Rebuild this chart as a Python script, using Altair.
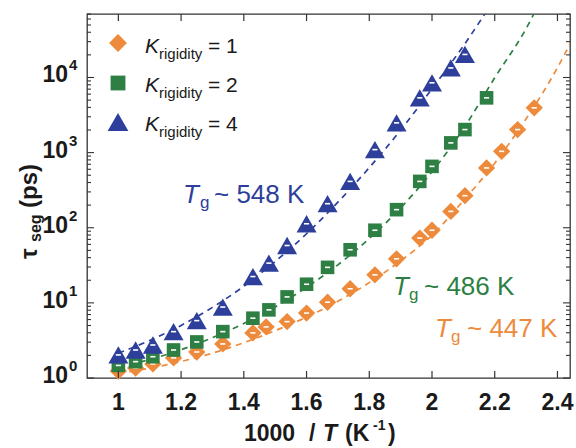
import altair as alt
import pandas as pd

# ---- segmental relaxation time vs inverse temperature ----
x_k1 = [1.0, 1.055, 1.11, 1.176, 1.25, 1.333, 1.429, 1.471, 1.538, 1.6, 1.667,
        1.739, 1.818, 1.887, 1.961, 2.0, 2.06, 2.105, 2.174, 2.222, 2.273, 2.326]
tau_k1 = [1.24, 1.36, 1.54, 1.85, 2.22, 2.84, 3.98, 4.79, 5.63, 7.31, 10.2,
          15.4, 23.6, 38.6, 72.9, 92.6, 165, 267, 625, 1040, 2026, 3945]

x_k2 = [1.0, 1.055, 1.11, 1.176, 1.25, 1.333, 1.429, 1.48, 1.538, 1.6, 1.667,
        1.739, 1.818, 1.887, 1.961, 2.0, 2.06, 2.105, 2.174]
tau_k2 = [1.47, 1.65, 1.92, 2.36, 3.02, 4.14, 6.25, 8.07, 12.0, 17.7, 29.7,
          50.9, 92.6, 174, 414, 656, 1347, 2026, 5360]

x_k4 = [1.0, 1.055, 1.11, 1.176, 1.25, 1.333, 1.429, 1.48, 1.538, 1.6, 1.667,
        1.739, 1.818, 1.887, 1.961, 2.0, 2.06, 2.105]
tau_k4 = [2.03, 2.36, 2.75, 4.14, 5.8, 8.8, 22.4, 33.8, 58, 113, 209,
          414, 1096, 2489, 5360, 8500, 13400, 20270]

# VFT fit curves (dashed)
fit_x_k1 = [1.0, 1.1, 1.2, 1.3, 1.4, 1.5, 1.6, 1.7, 1.8, 1.9, 2.0, 2.1, 2.2, 2.3, 2.4, 2.44]
fit_k1 = [1.15, 1.35, 1.66, 2.14, 2.95, 4.27, 6.46, 10.5, 18.6, 36.3, 79.4, 229, 724, 2818, 13490, 28000]
fit_x_k2 = [1.0, 1.1, 1.2, 1.3, 1.4, 1.5, 1.6, 1.7, 1.8, 1.9, 2.0, 2.1, 2.2, 2.3, 2.4]
fit_k2 = [1.4, 1.76, 2.38, 3.44, 5.32, 8.83, 16.1, 32.1, 71.8, 184, 557, 2070, 9910, 44700, 316000]
fit_x_k4 = [1.0, 1.1, 1.2, 1.3, 1.4, 1.5, 1.6, 1.7, 1.8, 1.9, 2.0, 2.1, 2.2]
fit_k4 = [2.14, 3.16, 5.01, 8.71, 16.6, 35.5, 83.2, 219, 631, 1995, 7079, 26300, 112200]

x_tick_values = [1.0, 1.2, 1.4, 1.6, 1.8, 2.0, 2.2, 2.4]
x_tick_labels = ["1", "1.2", "1.4", "1.6", "1.8", "2", "2.2", "2.4"]
y_decades = [1, 10, 100, 1000, 10000]
y_exponents = ["0", "1", "2", "3", "4"]

ORANGE, GREEN, BLUE = "#EE8A3B", "#2E7F43", "#2D3E9B"
INK = "#1a1a1a"
FRAME = "#333333"
FONT = "Liberation Sans"
W, H = 483, 364

xs = alt.Scale(domain=[0.9, 2.44], nice=False, zero=False)
ys = alt.Scale(type="log", domain=[1, 70000], nice=False)

y_minor = [m * d for d in y_decades for m in range(2, 10) if m * d <= 70000]


def xy():
    return dict(x=alt.X("x:Q", scale=xs, axis=None), y=alt.Y("tau:Q", scale=ys, axis=None))


# ---- inward ticks on all four sides ----
xt = pd.DataFrame({"v": x_tick_values, "lab": x_tick_labels})
yt_major = pd.DataFrame({"v": y_decades})
yt_minor = pd.DataFrame({"v": y_minor})


def x_ticks(y0, y1):
    return alt.Chart(xt).mark_rule(color=FRAME, strokeWidth=1.2).encode(
        x=alt.X("v:Q", scale=xs, axis=None), y=alt.value(y0), y2=alt.value(y1))


def y_ticks(df, x0, x1):
    return alt.Chart(df).mark_rule(color=FRAME, strokeWidth=1.1).encode(
        y=alt.Y("v:Q", scale=ys, axis=None), x=alt.value(x0), x2=alt.value(x1))


ticks = [
    x_ticks(H, H - 7), x_ticks(0, 7),
    y_ticks(yt_major, 0, 7), y_ticks(yt_minor, 0, 4),
    y_ticks(yt_major, W, W - 7), y_ticks(yt_minor, W, W - 4),
]

# ---- tick labels ----
xlab = alt.Chart(xt).mark_text(align="center", baseline="middle", font=FONT, fontSize=23,
                               fontWeight="bold", color=INK).encode(
    x=alt.X("v:Q", scale=xs, axis=None), y=alt.value(H + 25), text="lab:N")

ylab = pd.DataFrame({"v": y_decades, "base": ["10"] * 5, "exp": y_exponents})
ybase = alt.Chart(ylab).mark_text(align="right", baseline="middle", font=FONT, fontSize=23,
                                  fontWeight="bold", color=INK, dy=-2).encode(
    x=alt.value(-19), y=alt.Y("v:Q", scale=ys, axis=None), text="base:N")
yexp = alt.Chart(ylab).mark_text(align="left", baseline="middle", font=FONT, fontSize=15,
                                 fontWeight="bold", color=INK, dy=-12).encode(
    x=alt.value(-18), y=alt.Y("v:Q", scale=ys, axis=None), text="exp:N")


# ---- fit curves ----
def fit_line(xv, tv, color):
    df = pd.DataFrame({"x": xv, "tau": tv})
    return alt.Chart(df).mark_line(strokeDash=[6, 5], strokeWidth=1.7, clip=True,
                                   color=color, interpolate="monotone").encode(**xy())


lines = [fit_line(fit_x_k1, fit_k1, ORANGE), fit_line(fit_x_k2, fit_k2, GREEN),
         fit_line(fit_x_k4, fit_k4, BLUE)]


# ---- data markers with small white error bars ----
def series_marks(xv, tv, color, shape, size):
    df = pd.DataFrame({"x": xv, "tau": tv})
    pts = alt.Chart(df).mark_point(filled=True, opacity=1, shape=shape, size=size,
                                   color=color).encode(**xy())
    err = alt.Chart(df).mark_point(shape="M-1,0L1,0", filled=False, stroke="white",
                                   strokeWidth=1.6, size=26, opacity=1).encode(**xy())
    return [pts, err]


markers = (series_marks(x_k1, tau_k1, ORANGE, "diamond", 300)
           + series_marks(x_k2, tau_k2, GREEN, "square", 185)
           + series_marks(x_k4, tau_k4, BLUE, "triangle-up", 400))


def label(text, px, py, size, color=INK, weight="normal", style="normal",
          align="left", baseline="alphabetic", angle=0):
    return alt.Chart(pd.DataFrame({"t": [text]})).mark_text(
        align=align, baseline=baseline, font=FONT, fontSize=size, fontWeight=weight,
        fontStyle=style, color=color, angle=angle,
    ).encode(x=alt.value(px), y=alt.value(py), text="t:N")


texts = [
    # x-axis title: 1000 / T (K^-1)
    label("1000", 157, 427, 23, weight="bold"),
    label("/", 222, 427, 23, weight="bold"),
    label("T", 236, 427, 23, weight="bold", style="italic"),
    label("(K", 258, 427, 23, weight="bold"),
    label("-1", 286, 416, 14, weight="bold"),
    label(")", 301, 427, 23, weight="bold"),
    # y-axis title: tau_seg (ps)
    label("τ", -50, 245, 24, weight="bold", angle=270),
    label("seg", -46, 228, 16, weight="bold", angle=270),
    label("(ps)", -50, 194, 24, weight="bold", angle=270),
    # glass transition annotations
    label("T", 96, 189, 26, color=BLUE, style="italic"),
    label("g", 113, 194, 17, color=BLUE),
    label("~ 548 K", 127, 189, 26, color=BLUE),
    label("T", 306, 281, 26, color=GREEN, style="italic"),
    label("g", 322, 286, 17, color=GREEN),
    label("~ 486 K", 337, 281, 26, color=GREEN),
    label("T", 348, 323, 26, color=ORANGE, style="italic"),
    label("g", 364, 328, 17, color=ORANGE),
    label("~ 447 K", 380, 323, 26, color=ORANGE),
]

# ---- legend ----
legend_rows = [("1", ORANGE, "diamond", 320, 29, 39), ("2", GREEN, "square", 220, 69, 78),
               ("4", BLUE, "triangle-up", 430, 108, 117)]
legend = []
for k, c, shp, sz, sy, ty in legend_rows:
    legend.append(alt.Chart(pd.DataFrame({"k": [k]})).mark_point(
        filled=True, opacity=1, shape=shp, size=sz, color=c).encode(
        x=alt.value(31), y=alt.value(sy)))
    legend.append(label("K", 58, ty, 21, style="italic"))
    legend.append(label("rigidity", 72, ty + 6, 15))
    legend.append(label("= " + k, 121, ty, 21))

chart = alt.layer(*lines, *markers, *ticks, xlab, ybase, yexp, *texts, *legend).properties(
    width=W, height=H,
    padding={"left": 87, "top": 14, "right": 6, "bottom": 70},
    autosize=alt.AutoSizeParams(type="none"),
).configure_view(stroke=FRAME, strokeWidth=1.3)

chart.save("out.html", embed_options={"renderer": "svg", "actions": False})
